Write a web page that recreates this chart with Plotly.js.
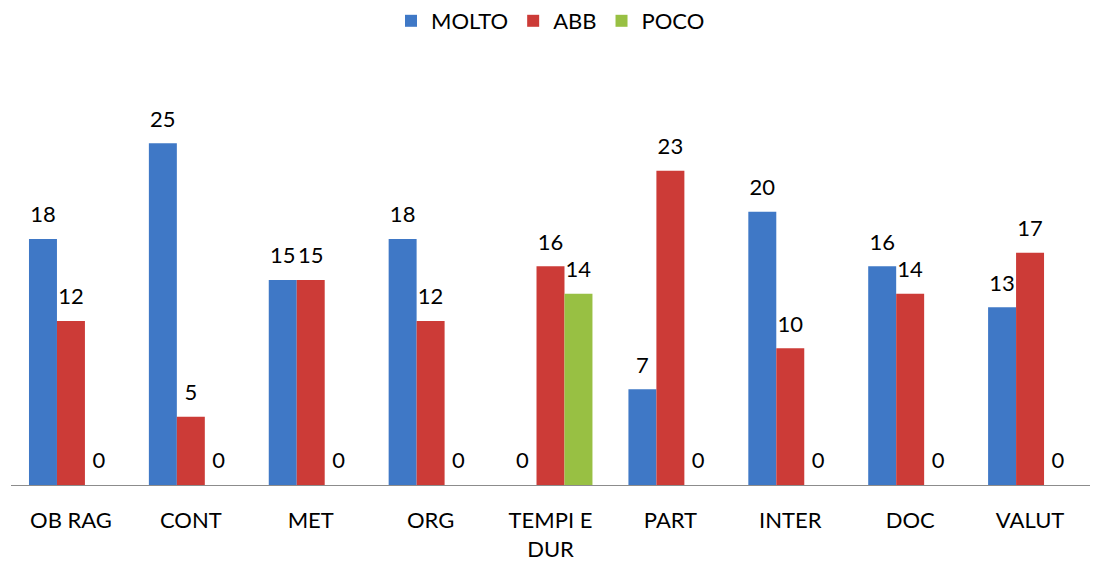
<!DOCTYPE html>
<html>
<head>
<meta charset="utf-8">
<script src="https://cdn.plot.ly/plotly-3.0.1.min.js"></script>
<style>html,body{margin:0;padding:0;background:#fff;}#chart{width:1103px;height:567px;}</style>
</head>
<body>
<div id="chart"></div>
<script>
const categories = ["OB RAG", "CONT", "MET", "ORG", "TEMPI E<br>DUR", "PART", "INTER", "DOC", "VALUT"];
const molto = [18, 25, 15, 18, 0, 7, 20, 16, 13];
const abb = [12, 5, 15, 12, 16, 23, 10, 14, 17];
const poco = [0, 0, 0, 0, 14, 0, 0, 0, 0];

const FONT = "Lato, 'Open Sans', sans-serif";
function series(name, y, color) {
  return {
    type: "bar", name: name, x: categories, y: y,
    marker: {color: color, line: {width: 0}},
    texttemplate: "<span style='font-size:22px'>%{y}</span><br><span style='color:rgba(0,0,0,0)'>.</span>",
    textposition: "outside",
    textfont: {family: FONT, size: 9, color: "#000"},
    constraintext: "none", cliponaxis: false
  };
}
const data = [
  series("MOLTO", molto, "#3f78c6"),
  series("ABB", abb, "#cc3b37"),
  series("POCO", poco, "#98c043")
];
const layout = {
  width: 1103, height: 567,
  margin: {l: 11, r: 13, t: 75, b: 82},
  paper_bgcolor: "#fff", plot_bgcolor: "#fff",
  barmode: "group", bargap: 0.3, bargroupgap: 0,
  font: {family: FONT, size: 22, color: "#000"},
  showlegend: true,
  legend: {orientation: "h", x: 0.5, xanchor: "center", y: 1.0, yref: "container", yanchor: "top",
           font: {family: FONT, size: 22, color: "#000"}, itemwidth: 30, traceorder: "normal"},
  xaxis: {showline: true, linecolor: "#8c8c8c", linewidth: 1, ticks: "", showgrid: false,
          tickfont: {family: FONT, size: 22, color: "#000"}, ticklabelstandoff: 16, fixedrange: true},
  yaxis: {range: [0, 30], visible: false, showgrid: false, zeroline: false}
};
Plotly.newPlot("chart", data, layout, {displayModeBar: false, staticPlot: true});
</script>
</body>
</html>
